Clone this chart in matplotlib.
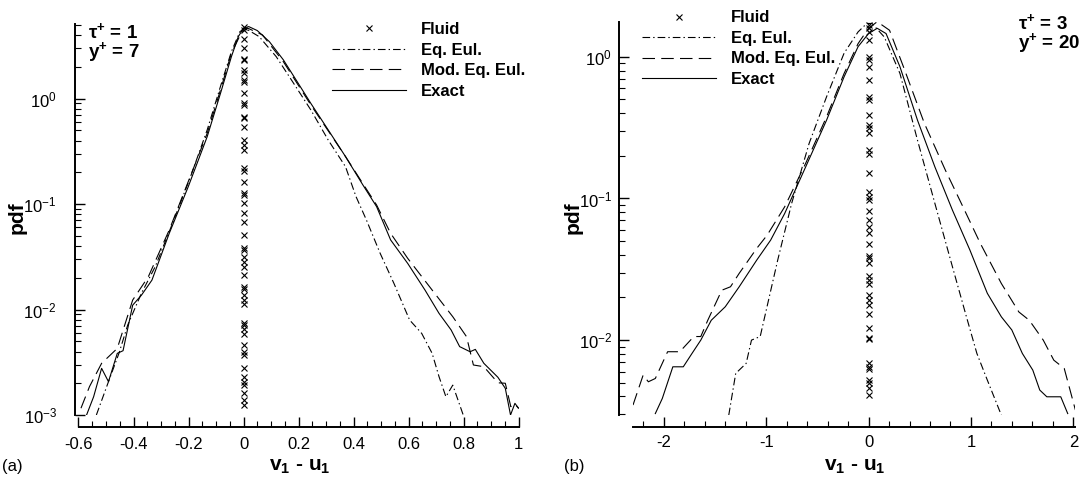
import numpy as np
import matplotlib
matplotlib.use("Agg")
import matplotlib.pyplot as plt
from matplotlib.ticker import MultipleLocator, LogLocator, LogFormatterMathtext, FuncFormatter, NullFormatter

plt.rcParams['font.family'] = ['Liberation Sans', 'DejaVu Sans']
plt.rcParams['mathtext.fontset'] = 'custom'
plt.rcParams['mathtext.rm'] = 'Liberation Sans'
plt.rcParams['mathtext.bf'] = 'Liberation Sans:bold'
plt.rcParams['mathtext.it'] = 'Liberation Sans:italic'
plt.rcParams['mathtext.default'] = 'regular'
plt.rcParams['axes.unicode_minus'] = False
plt.rcParams['lines.scale_dashes'] = False

# ---------------- data: panel (a) tau+=1, y+=7 ----------------
a_fluid_pdf = [4.8, 4.5, 3.65, 3.0, 2.4, 2.3, 1.85, 1.75, 1.5, 1.45, 1.12, 0.90, 0.87,
               0.675, 0.65, 0.535, 0.405, 0.364, 0.326, 0.218, 0.207, 0.163, 0.126,
               0.122, 0.102, 0.0817, 0.068, 0.051, 0.038, 0.0367, 0.0317, 0.0284,
               0.0255, 0.0213, 0.0165, 0.0156, 0.0137, 0.0123, 0.0112, 0.0074, 0.0071,
               0.0066, 0.0059, 0.0046, 0.0040, 0.0037, 0.00277, 0.00231, 0.00207,
               0.00192, 0.0016, 0.00139, 0.00124]
a_fluid_x = [0.0] * len(a_fluid_pdf)

a_exact_x = [-0.572, -0.545, -0.516, -0.491, -0.459, -0.438, -0.403, -0.371, -0.333,
             -0.270, -0.201, -0.132, -0.082, -0.044, -0.019, 0.0, 0.019, 0.05, 0.094,
             0.145, 0.195, 0.245, 0.308, 0.371, 0.434, 0.484, 0.535, 0.597, 0.660,
             0.711, 0.755, 0.786, 0.824, 0.843, 0.874, 0.925, 0.952, 0.971, 0.987, 1.0]
a_exact_pdf = [0.00098, 0.00149, 0.00277, 0.00207, 0.00384, 0.00407, 0.0110, 0.0137,
               0.019, 0.0528, 0.146, 0.436, 1.16, 2.5, 3.87, 4.65, 4.82, 4.42, 3.47,
               2.33, 1.45, 0.90, 0.505, 0.282, 0.152, 0.0946, 0.0457, 0.0274, 0.0153,
               0.0092, 0.0064, 0.00445, 0.00398, 0.00419, 0.00309, 0.00228, 0.00179,
               0.001, 0.00129, 0.00116]

a_mod_x = [-0.591, -0.56, -0.516, -0.459, -0.403, -0.346, -0.270, -0.201, -0.132,
           -0.082, -0.044, -0.006, 0.016, 0.069, 0.145, 0.245, 0.371, 0.484, 0.535,
           0.597, 0.686, 0.761, 0.811, 0.836, 0.874, 0.925, 0.952, 0.972, 0.987, 1.0]
a_mod_pdf = [0.00116, 0.00186, 0.00309, 0.00428, 0.0123, 0.0205, 0.0568, 0.163, 0.469,
             1.25, 2.69, 4.32, 4.65, 4.02, 2.24, 0.87, 0.282, 0.098, 0.0528, 0.0306,
             0.0153, 0.00855, 0.00553, 0.00298, 0.00287, 0.00202, 0.002, 0.0012,
             0.00127, 0.00116]

a_eq_x = [-0.535, -0.491, -0.453, -0.421, -0.371, -0.321, -0.258, -0.195, -0.132,
          -0.082, -0.044, -0.013, 0.006, 0.057, 0.119, 0.182, 0.245, 0.308, 0.371,
          0.409, 0.447, 0.497, 0.547, 0.604, 0.648, 0.686, 0.711, 0.736, 0.761, 0.799]
a_eq_pdf = [0.001, 0.00207, 0.00384, 0.00713, 0.0143, 0.0255, 0.0657, 0.175, 0.505,
            1.35, 2.79, 4.32, 4.65, 3.87, 2.5, 1.4, 0.78, 0.405, 0.226, 0.118, 0.0706,
            0.0341, 0.0177, 0.00796, 0.00594, 0.00384, 0.00231, 0.00149, 0.00192, 0.001]

# ---------------- data: panel (b) tau+=3, y+=20 ----------------
b_fluid_pdf = [1.67, 1.585, 1.5, 1.31, 1.0, 0.947, 0.85, 0.684, 0.522, 0.494, 0.388,
               0.33, 0.312, 0.288, 0.219, 0.206, 0.152, 0.111, 0.103, 0.0973, 0.0818,
               0.0703, 0.063, 0.0566, 0.0476, 0.0392, 0.0377, 0.0348, 0.0283, 0.0265,
               0.0249, 0.0208, 0.0192, 0.0177, 0.0154, 0.0121, 0.0103, 0.0101, 0.00685,
               0.00648, 0.0063, 0.00522, 0.00495, 0.00456, 0.00409]
b_fluid_x = [0.0] * len(b_fluid_pdf)

b_exact_x = [-2.082, -2.014, -1.911, -1.809, -1.724, -1.638, -1.536, -1.399, -1.263,
             -1.092, -0.956, -0.819, -0.614, -0.41, -0.239, -0.102, 0.0, 0.085, 0.171,
             0.307, 0.478, 0.648, 0.819, 0.99, 1.160, 1.297, 1.399, 1.502, 1.604,
             1.672, 1.741, 1.877, 1.945]
b_exact_pdf = [0.00303, 0.00387, 0.00648, 0.00648, 0.00805, 0.01, 0.0138, 0.0172,
               0.0238, 0.0367, 0.0508, 0.0783, 0.167, 0.357, 0.722, 1.18, 1.46, 1.59,
               1.46, 0.85, 0.357, 0.167, 0.0828, 0.0432, 0.0214, 0.0146, 0.0118,
               0.00805, 0.00614, 0.00444, 0.00398, 0.00398, 0.00303]

b_mod_x = [-2.30, -2.201, -2.150, -2.082, -1.962, -1.843, -1.706, -1.638, -1.570,
           -1.433, -1.348, -1.263, -1.092, -0.99, -0.819, -0.614, -0.41, -0.239,
           -0.102, 0.0, 0.085, 0.205, 0.341, 0.546, 0.751, 0.922, 1.092, 1.297,
           1.468, 1.57, 1.706, 1.809, 1.911, 2.02]
b_mod_pdf = [0.00348, 0.00566, 0.00508, 0.00536, 0.00828, 0.00828, 0.0106, 0.0106,
             0.0138, 0.0225, 0.0238, 0.0296, 0.0444, 0.0551, 0.0873, 0.177, 0.377,
             0.762, 1.24, 1.59, 1.77, 1.54, 0.85, 0.338, 0.158, 0.0873, 0.0481, 0.0251,
             0.0158, 0.0138, 0.01, 0.00722, 0.00631, 0.00321]

b_eq_x = [-1.365, -1.297, -1.195, -1.143, -1.058, -0.887, -0.751, -0.58, -0.41,
          -0.239, -0.102, -0.017, 0.034, 0.154, 0.307, 0.478, 0.648, 0.819, 0.956,
          1.058, 1.160, 1.297]
b_eq_pdf = [0.00295, 0.00582, 0.00685, 0.01, 0.0106, 0.0367, 0.0922, 0.245, 0.522,
            1.06, 1.5, 1.72, 1.72, 1.38, 0.762, 0.258, 0.0922, 0.033, 0.0146, 0.00805,
            0.00522, 0.00295]

labels = ['Fluid', 'Eq. Eul.', 'Mod. Eq. Eul.', 'Exact']

W, H = 1086, 482
fig = plt.figure(figsize=(W / 100, H / 100), dpi=100)

DASH = (9.0, 4.5)
DASHDOT = (5.5, 2.2, 1.0, 2.2)
LW = 0.8


def px(x0, y0, x1, y1):
    return [x0 / W, 1 - y1 / H, (x1 - x0) / W, (y1 - y0) / H]


def style_axes(ax, left_out, bottom_out, ypad, xpad):
    for s in ['top', 'right']:
        ax.spines[s].set_visible(False)
    ax.spines['left'].set_position(('outward', left_out))
    ax.spines['bottom'].set_position(('outward', bottom_out))
    for s in ['left', 'bottom']:
        ax.spines[s].set_linewidth(1.4)
    ax.set_yscale('log')
    ax.yaxis.set_major_locator(LogLocator(base=10, numticks=10))
    ax.yaxis.set_minor_locator(LogLocator(base=10, subs=np.arange(2, 10), numticks=20))
    ax.yaxis.set_major_formatter(LogFormatterMathtext())
    ax.yaxis.set_minor_formatter(NullFormatter())
    ax.tick_params(which='both', direction='in', top=False, right=False, labelsize=12)
    ax.tick_params(which='major', length=7, width=1.0)
    ax.tick_params(which='minor', length=4, width=0.8)
    ax.tick_params(axis='y', which='major', pad=ypad)
    ax.tick_params(axis='x', which='major', pad=xpad)
    ax.xaxis.set_major_formatter(FuncFormatter(lambda v, p: '0' if abs(v) < 1e-9 else '%g' % v))


def draw(ax, fx, fp, ex, ep, mx, mp, qx, qp):
    h1, = ax.plot(fx, fp, ls='none', marker='x', ms=4.5, mew=0.8, color='black', clip_on=False)
    h2, = ax.plot(qx, qp, color='black', lw=LW, dashes=DASHDOT)
    h3, = ax.plot(mx, mp, color='black', lw=LW, dashes=DASH)
    h4, = ax.plot(ex, ep, color='black', lw=LW, ls='-')
    return [h1, h2, h3, h4]


# ---------- panel (a) ----------
axa = fig.add_axes(px(78.5, 24, 518.5, 415))
style_axes(axa, 2.6, 8.6, 13, 7)
ha = draw(axa, a_fluid_x, a_fluid_pdf, a_exact_x, a_exact_pdf, a_mod_x, a_mod_pdf, a_eq_x, a_eq_pdf)
axa.set_xlim(-0.6, 1.0)
axa.set_ylim(1e-3, 5.1)
axa.xaxis.set_major_locator(MultipleLocator(0.2))
axa.xaxis.set_minor_locator(MultipleLocator(0.05))

# ---------- panel (b) ----------
axb = fig.add_axes(px(633, 21.7, 1075.4, 415))
style_axes(axb, 10, 8.4, 5, 6)
hb = draw(axb, b_fluid_x, b_fluid_pdf, b_exact_x, b_exact_pdf, b_mod_x, b_mod_pdf, b_eq_x, b_eq_pdf)
axb.set_xlim(-2.30, 2.02)
axb.set_ylim(0.00296, 1.77)
axb.xaxis.set_major_locator(MultipleLocator(1))
axb.xaxis.set_minor_locator(MultipleLocator(0.2))

# legends
for ax, handles, x0, ytop in [(axa, ha, 331.7, 22.0), (axb, hb, 641.9, 10.5)]:
    ax.legend(handles, labels, loc='upper left', bbox_to_anchor=(x0 / W, 1 - ytop / H),
              bbox_transform=fig.transFigure, frameon=False, borderpad=0, borderaxespad=0,
              handlelength=4.45, handletextpad=0.9, labelspacing=0.33, numpoints=1,
              prop={'weight': 'bold', 'size': 12})

# axis labels
lab_kw = dict(fontsize=15, fontweight='bold')
fig.text(17 / W, 1 - 218 / H, 'pdf', rotation=90, ha='center', va='center', **lab_kw)
fig.text(573 / W, 1 - 218 / H, 'pdf', rotation=90, ha='center', va='center', **lab_kw)
xl = r'$\mathbf{v}_{\mathbf{1}}$ - $\mathbf{u}_{\mathbf{1}}$'
fig.text(300 / W, 1 - 466 / H, xl, ha='center', va='center', **lab_kw)
fig.text(855 / W, 1 - 466 / H, xl, ha='center', va='center', **lab_kw)

# panel letters
fig.text(2 / W, 1 - 466 / H, '(a)', ha='left', va='center', fontsize=12)
fig.text(564 / W, 1 - 466 / H, '(b)', ha='left', va='center', fontsize=12)

# parameter annotations
ann_kw = dict(ha='left', va='center', fontsize=13.5, fontweight='bold')
fig.text(88 / W, 1 - 32 / H, r'$\tau^{\mathbf{+}}$ = 1', **ann_kw)
fig.text(88 / W, 1 - 52 / H, r'$\mathbf{y}^{\mathbf{+}}$ = 7', **ann_kw)
fig.text(1018 / W, 1 - 23 / H, r'$\tau^{\mathbf{+}}$ = 3', **ann_kw)
fig.text(1018 / W, 1 - 43 / H, r'$\mathbf{y}^{\mathbf{+}}$ = 20', **ann_kw)

fig.savefig('out.png', dpi=100)
